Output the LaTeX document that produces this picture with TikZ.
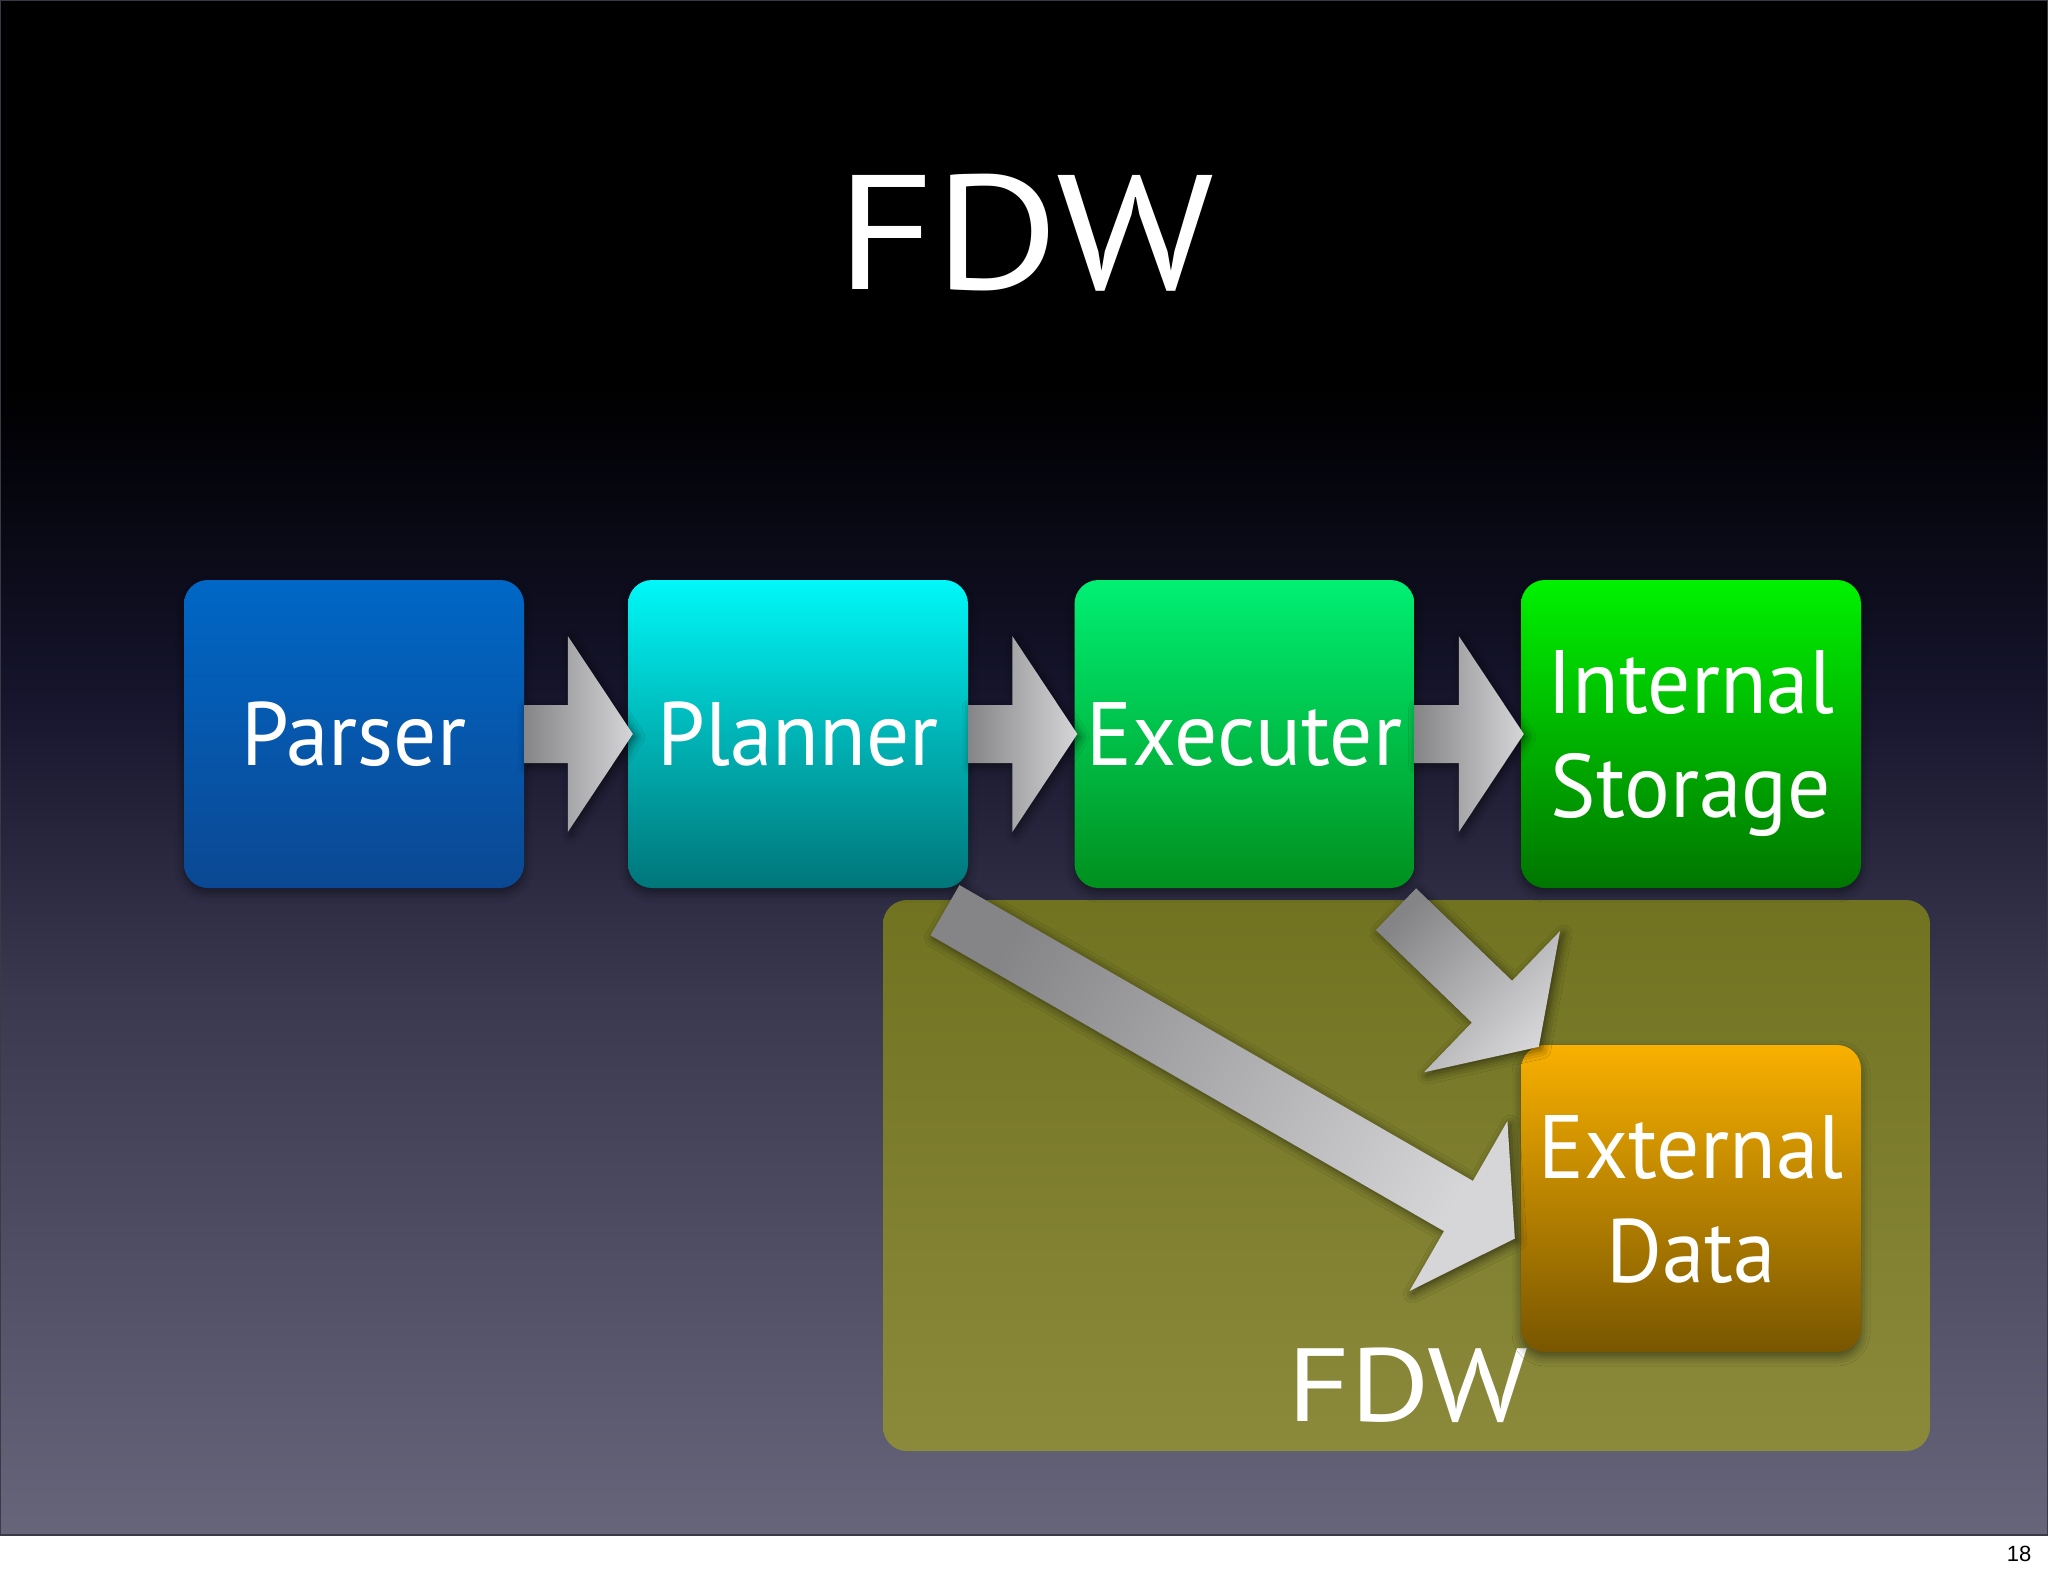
\documentclass[tikz,border=0pt]{standalone}
\usepackage{fontspec}
\setmainfont{PT Sans}
\newfontfamily\boxfont[FakeStretch=0.95]{PT Sans}
\newfontfamily\widefont[FakeStretch=1.17]{PT Sans}
\newfontfamily\pagefont{Liberation Sans}
\usetikzlibrary{calc,shadows.blur}
\definecolor{bgA}{HTML}{66657A}
\definecolor{bgB}{HTML}{3A3950}
\definecolor{bgC}{HTML}{16152D}
\definecolor{bgD}{HTML}{030309}
\definecolor{parserT}{HTML}{0067C6}
\definecolor{parserB}{HTML}{0B4893}
\definecolor{plannerT}{HTML}{00F8F8}
\definecolor{plannerM}{HTML}{00B4B6}
\definecolor{plannerB}{HTML}{00767A}
\definecolor{execT}{HTML}{00F074}
\definecolor{execB}{HTML}{00901E}
\definecolor{internT}{HTML}{00F200}
\definecolor{internB}{HTML}{007600}
\definecolor{extT}{HTML}{F9B000}
\definecolor{extB}{HTML}{785600}
\definecolor{fdwT}{HTML}{717321}
\definecolor{fdwB}{HTML}{8B8A3B}
\definecolor{arrowA}{HTML}{858588}
\definecolor{arrowB}{HTML}{D6D6D9}
\definecolor{slideedge}{HTML}{3A3A46}
\pgfdeclareverticalshading{bgshade}{100bp}{color(0bp)=(bgA); color(25bp)=(bgA); color(42.4bp)=(bgB); color(52.2bp)=(bgC); color(60.3bp)=(bgD); color(62.6bp)=(black); color(75bp)=(black); color(100bp)=(black)}
\tikzset{
  box/.style={rounded corners=24pt, minimum width=340pt, minimum height=308pt,
    text=white, font=\boxfont\fontsize{90}{104}\selectfont, align=center, inner sep=0pt,
    text depth=0pt,
    blur shadow={shadow xshift=0pt, shadow yshift=-5pt, shadow blur radius=9pt, shadow opacity=45}},
  fdwbox/.style={rounded corners=24pt, minimum width=1047pt, minimum height=551pt,
    top color=fdwT, bottom color=fdwB, inner sep=0pt},
  titletext/.style={text=white, font=\widefont\fontsize{163}{180}\selectfont, inner sep=0pt},
  fdwtext/.style={text=white, font=\widefont\fontsize{104}{120}\selectfont, inner sep=0pt},
  pagenum/.style={text=black, font=\pagefont\fontsize{22}{26}\selectfont, inner sep=0pt},
  arrowfill/.style={left color=arrowA, right color=arrowB,
    blur shadow={shadow xshift=3pt, shadow yshift=-3pt, shadow blur radius=9pt, shadow opacity=55}},
}
% block arrow: #1 tail centre, #2 tip, #3 shading angle
\newcommand\blockarrow[3]{%
  \coordinate (bab) at ($(#2)!65pt!(#1)$);
  \path[arrowfill, shading angle=#3]
    ($(#1)!29pt!90:(#2)$) -- ($(bab)!29pt!90:(#2)$) -- ($(bab)!98pt!90:(#2)$) --
    (#2) -- ($(bab)!98pt!-90:(#2)$) -- ($(bab)!29pt!-90:(#2)$) --
    ($(#1)!29pt!-90:(#2)$) -- cycle;
}
\begin{document}
\begin{tikzpicture}[x=1pt,y=-1pt]
\useasboundingbox (0,0) rectangle (2048,1576);
\fill[white] (0,0) rectangle (2048,1576);
\shade[shading=bgshade] (0,0) rectangle (2048,1535);
\draw[slideedge, line width=2pt] (0,0) rectangle (2048,1535);

\node[titletext] (title) at (1025,233) {FDW};

\node[fdwbox] (fdw) at (1406.5,1175.5) {};
\node[fdwtext] (fdwlabel) at (1408,1385) {FDW};

\node[box, top color=parserT, bottom color=parserB] (parser) at (354,734) {Parser};
\node[box, top color=plannerT, bottom color=plannerB, middle color=plannerM] (planner) at (798,734) {Planner};
\node[box, top color=execT, bottom color=execB] (executer) at (1244.5,734) {Executer};
\node[box, top color=internT, bottom color=internB] (internal) at (1691,734) {Internal\\Storage};
\node[box, top color=extT, bottom color=extB, minimum height=307pt] (external) at (1691,1198.5) {External\\Data};

\coordinate (h1s) at (parser.east);
\coordinate (h1e) at ($(planner.west)+(5,0)$);
\coordinate (h2s) at (planner.east);
\coordinate (h2e) at ($(executer.west)+(3,0)$);
\coordinate (h3s) at (executer.east);
\coordinate (h3e) at ($(internal.west)+(3,0)$);
\blockarrow{h1s}{h1e}{90}
\blockarrow{h2s}{h2e}{90}
\blockarrow{h3s}{h3e}{90}

\coordinate (d1s) at ($(planner.south)+(147,22)$);
\coordinate (d1e) at ($(external.west)+(-6,40)$);
\coordinate (d2s) at ($(executer.south)+(151.5,21)$);
\coordinate (d2e) at ($(external.north west)+(18,2)$);
\blockarrow{d1s}{d1e}{60}
\blockarrow{d2s}{d2e}{46}

\node[pagenum] (page) at (2019,1554) {18};
\end{tikzpicture}
\end{document}
